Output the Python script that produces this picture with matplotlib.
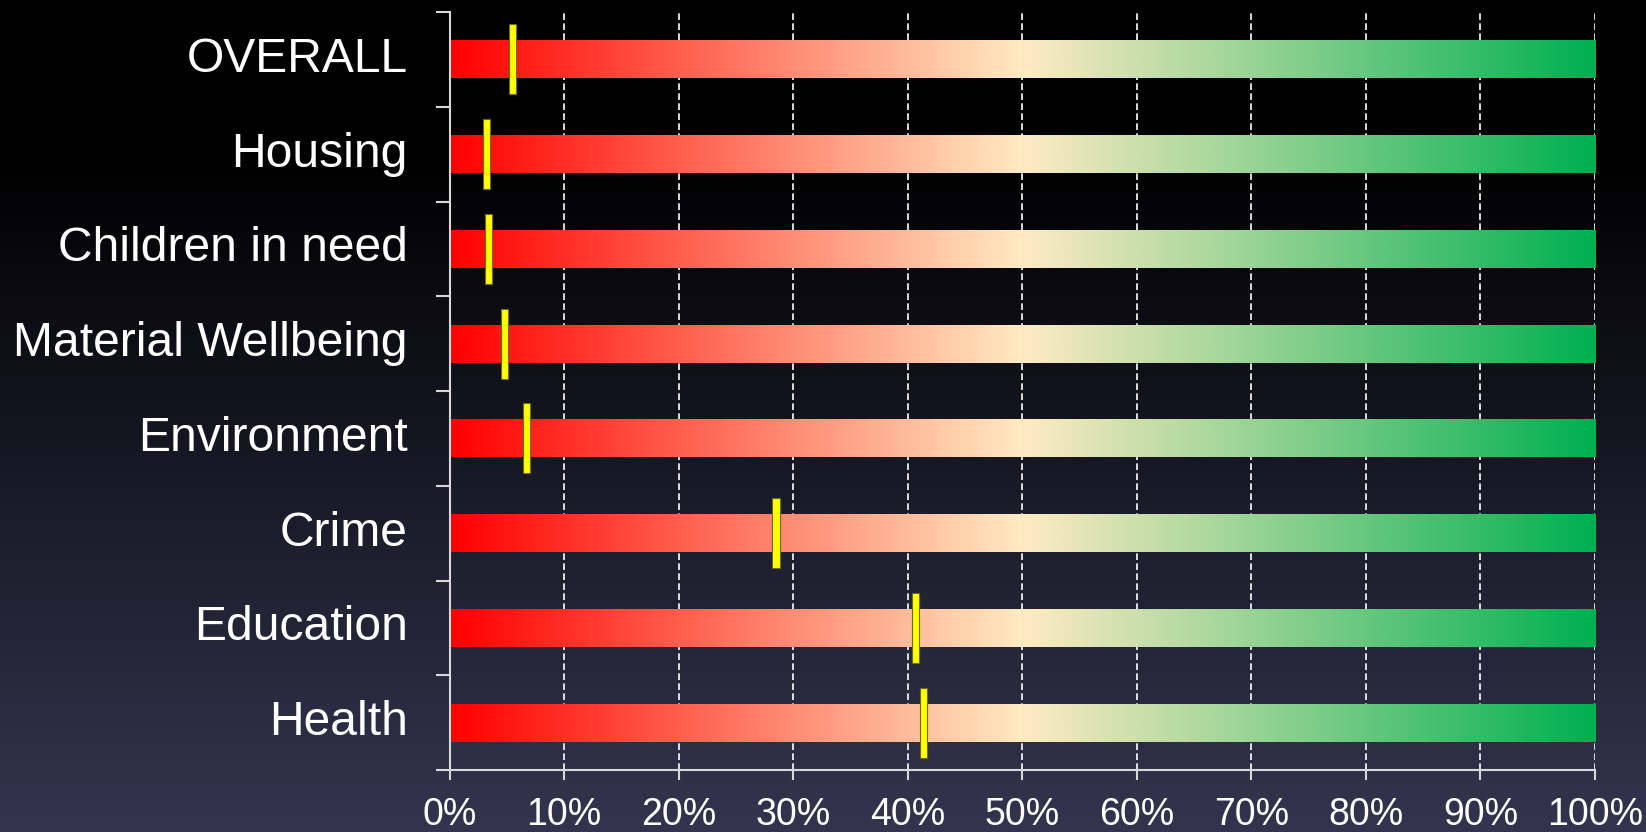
import numpy as np
import matplotlib
matplotlib.use("Agg")
import matplotlib.pyplot as plt
from matplotlib.colors import LinearSegmentedColormap

plt.rcParams["font.family"] = ["Liberation Sans", "DejaVu Sans"]

# data
categories = ["OVERALL", "Housing", "Children in need", "Material Wellbeing",
              "Environment", "Crime", "Education", "Health"]
scores = [5.5, 3.2, 3.4, 4.8, 6.7, 28.5, 40.7, 41.4]   # % position of marker
xticks = list(range(0, 101, 10))
xlabels = [f"{t}%" for t in xticks]

W, H, DPI = 1646, 832, 100
fig = plt.figure(figsize=(W / DPI, H / DPI), dpi=DPI)
fig.patch.set_facecolor("black")

# background: black on top fading to dark slate at the bottom
bg = fig.add_axes([0, 0, 1, 1], zorder=-10)
rows = np.linspace(0, 1, H)
t = np.clip((rows * H - 150) / (H - 150), 0, 1)[:, None, None]
bottom_col = np.array([0x34, 0x34, 0x4f]) / 255
bg.imshow(t * bottom_col[None, None, :] * np.ones((1, 2, 3)), aspect="auto",
          extent=(0, 1, 1, 0))
bg.set_xlim(0, 1); bg.set_ylim(1, 0)
bg.axis("off")

ax = fig.add_axes([449.5 / W, 1 - 770 / H, (1595 - 449.5) / W, (770 - 12) / H])
ax.set_facecolor("none")

cmap = LinearSegmentedColormap.from_list(
    "rag", [(0.0, "#FF0000"), (0.5, "#FFEBC3"), (1.0, "#00B050")])
grad = np.linspace(0, 1, 512)[None, :]

pos = np.arange(len(categories))
bar_h = 0.40
for p in pos:
    ax.imshow(grad, cmap=cmap, aspect="auto", zorder=2,
              extent=(0, 100, p + bar_h / 2, p - bar_h / 2))

# markers
ax.bar(scores, 0.74, bottom=pos - 0.37, width=0.62, color="#FFFF00",
       edgecolor="#6b6b00", linewidth=0.8, zorder=4)

ax.set_xlim(0, 100)
ax.set_ylim(len(categories) - 0.5, -0.5)

# dashed vertical grid
for x in xticks[1:]:
    ax.axvline(x, color="white", linestyle=(0, (4, 2)), linewidth=1.2, zorder=1)

ax.set_xticks(xticks)
ax.set_xticklabels(xlabels, fontsize=27, color="white")
ax.set_yticks(pos)
ax.set_yticklabels(categories, fontsize=34.6, color="white", va="center")
ax.set_yticks(np.arange(-0.5, len(categories)), minor=True)
ax.tick_params(axis="y", which="major", length=0, pad=30)
ax.tick_params(axis="y", which="minor", length=10, width=1.5, color="#d9d9d9",
               direction="out")
ax.tick_params(axis="x", length=7.5, width=1.5, color="#d9d9d9",
               direction="out", pad=12)
for lbl in ax.get_yticklabels():
    lbl.set_y(lbl.get_position()[1])

for s in ["top", "right"]:
    ax.spines[s].set_visible(False)
for s in ["left", "bottom"]:
    ax.spines[s].set_color("#d9d9d9")
    ax.spines[s].set_linewidth(1.5)

fig.savefig("out.png", dpi=DPI, facecolor=fig.get_facecolor())
